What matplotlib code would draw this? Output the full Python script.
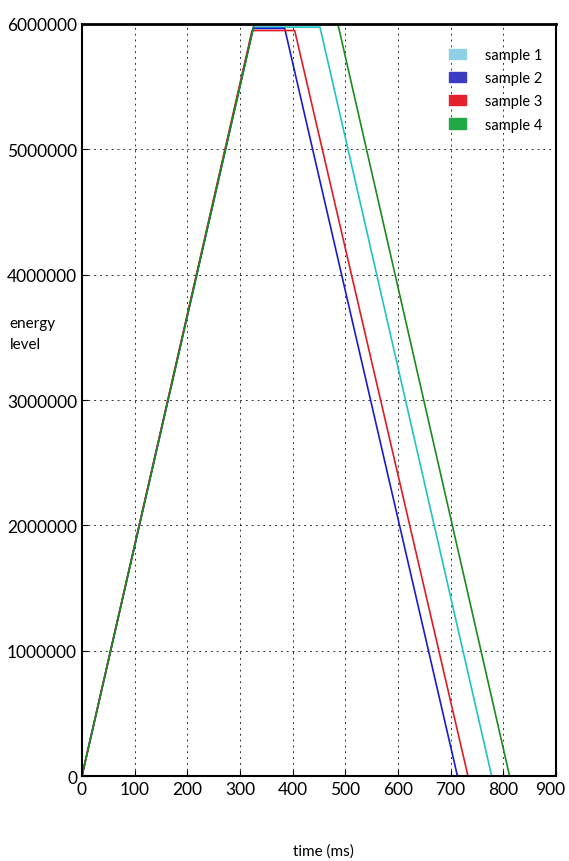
import matplotlib.pyplot as plt
import matplotlib.patches as mpatches
import matplotlib.transforms as mtransforms
from matplotlib.ticker import FormatStrFormatter

# energy trace for each sample: ramp up, hold, ramp down (time in ms)
labels = ['sample 1', 'sample 2', 'sample 3', 'sample 4']
t1 = [0, 326, 452, 778]
e1 = [0, 5975000, 5975000, 0]
t2 = [0, 325, 385, 713]
e2 = [0, 5965000, 5965000, 0]
t3 = [0, 323, 404, 733]
e3 = [0, 5948000, 5948000, 0]
t4 = [0, 327, 486, 812]
e4 = [0, 6000000, 6000000, 0]

line_colors = ['#1fc4c4', '#1a1ad6', '#e01b24', '#1d8a1d']
patch_colors = ['#8fd0e4', '#3a3cc4', '#e3202c', '#22a847']

plt.rcParams['font.family'] = ['Lato', 'DejaVu Sans']

fig = plt.figure(figsize=(5.69, 8.62), dpi=100)
ax = fig.add_axes([0.144, 0.0986, 0.833, 0.8724])

series = [(t1, e1), (t2, e2), (t3, e3), (t4, e4)]
for (t, e), c in zip(series, line_colors):
    ax.plot(t, e, color=c, linewidth=1.2)

ax.set_xlim(0, 900)
ax.set_ylim(0, 6000000)
ax.set_xticks(range(0, 901, 100))
ax.set_yticks(range(0, 6000001, 1000000))
ax.yaxis.set_major_formatter(FormatStrFormatter('%d'))
ax.tick_params(direction='in', labelsize=12.5, length=4)
ax.grid(True, color='#333333', linestyle=(0, (2, 4)), linewidth=0.7)

# nudge the last x label so it stays inside the figure
last = ax.get_xticklabels()[-1]
last.set_transform(last.get_transform() +
                   mtransforms.ScaledTranslation(-4 / 72, 0, fig.dpi_scale_trans))

for s in ax.spines.values():
    s.set_linewidth(1.5)
ax.spines['top'].set_linewidth(2)

fig.text(0.017, 0.612, 'energy\nlevel', fontsize=11, ha='left', va='center',
         linespacing=1.6)
fig.text(0.568, 0.004, 'time (ms)', fontsize=11, ha='center', va='bottom')

handles = [mpatches.Patch(color=c, label=l) for c, l in zip(patch_colors, labels)]
leg = ax.legend(handles=handles, loc='upper right', frameon=False,
                fontsize=10.5, handlelength=1.2, handleheight=0.7,
                handletextpad=1.3, labelspacing=0.62,
                bbox_to_anchor=(1.0, 0.985))

fig.savefig('out.png', dpi=100)
